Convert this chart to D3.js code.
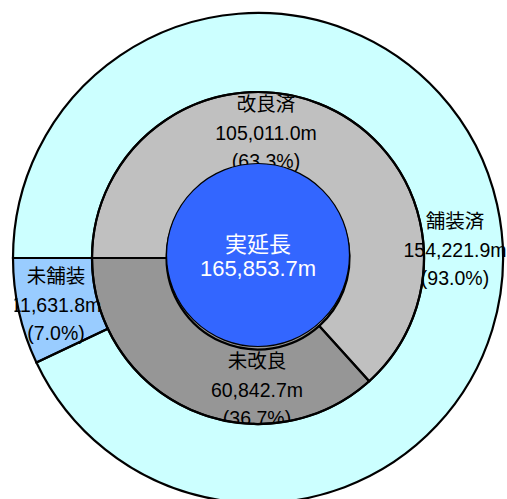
<!DOCTYPE html>
<html><head><meta charset="utf-8">
<script src="https://cdn.jsdelivr.net/npm/d3@7"></script>
<style>html,body{margin:0;padding:0;background:#fff;overflow:hidden}</style>
</head><body>
<svg id="c" width="507" height="499"></svg>
<script>
// Data
const totalLabel = "実延長";
const totalValue = "165,853.7m";
const innerCategories = ["改良済", "未改良"];
const innerValues = [105011.0, 60842.7];
const innerPercents = ["63.3%", "36.7%"];
const outerCategories = ["舗装済", "未舗装"];
const outerValues = [154221.9, 11631.8];
const outerPercents = ["93.0%", "7.0%"];

const innerColors = ["#C0C0C0", "#969696"];
const outerColors = ["#CCFFFF", "#99CCFF"];
const centerColor = "#3366FF";

const cx = 258, cy = 258;
const rOuter = 245, rMid = 166, rBlue = 91.5;
const font = '"Liberation Sans", Arial, "Noto Sans CJK JP", sans-serif';
const fmt = d3.format(",.1f");

const svg = d3.select("#c");
const g = svg.append("g").attr("transform", `translate(${cx},${cy})`);

const pie = d3.pie().sort(null).startAngle(-Math.PI / 2).endAngle(3 * Math.PI / 2);
const innerArcs = pie(innerValues);
const outerArcs = pie(outerValues);

const midArc = d3.arc().innerRadius(rBlue).outerRadius(rMid);
const ringArc = d3.arc().innerRadius(rMid).outerRadius(rOuter);

// label anchor offsets (relative to center): [dx, dy of first line]
const innerLabelPos = [[8, -154], [-1, 103]];
const outerLabelPos = [[197, -37], [-202, 18]];
const lineGap = 28.7;

function drawLabel(layer, pos, name, value, pct, size) {
  const t = layer.append("g").attr("transform", `translate(${pos[0]},${pos[1]})`);
  [name, fmt(value) + "m", "(" + pct + ")"].forEach((s, i) => {
    t.append("text").attr("x", 0).attr("y", i * lineGap)
      .attr("text-anchor", "middle").attr("dominant-baseline", "central")
      .attr("font-family", font).attr("font-size", size).attr("fill", "#000").text(s);
  });
}

// middle ring fills
g.append("g").selectAll("path").data(innerArcs).join("path")
  .attr("d", d3.arc().innerRadius(0).outerRadius(rMid))
  .attr("fill", (d, i) => innerColors[i]);

// middle labels
const midLab = g.append("g");
innerArcs.forEach((d, i) => drawLabel(midLab, innerLabelPos[i], innerCategories[i], innerValues[i], innerPercents[i], 19.5));

// outer ring fills
g.append("g").selectAll("path").data(outerArcs).join("path")
  .attr("d", ringArc).attr("fill", (d, i) => outerColors[i]);

// outer labels (clipped to plot area)
svg.append("defs").append("clipPath").attr("id", "plot")
  .append("rect").attr("x", 14.5 - cx).attr("y", -cy).attr("width", 507).attr("height", 499);
const outLab = g.append("g").attr("clip-path", "url(#plot)");
outerArcs.forEach((d, i) => drawLabel(outLab, outerLabelPos[i], outerCategories[i], outerValues[i], outerPercents[i], 19.5));

// strokes
g.append("g").selectAll("path").data(outerArcs).join("path")
  .attr("d", ringArc).attr("fill", "none").attr("stroke", "#000").attr("stroke-width", 2.2);
g.append("g").selectAll("path").data(innerArcs).join("path")
  .attr("d", midArc).attr("fill", "none").attr("stroke", "#000").attr("stroke-width", 2.2);

// center circle
g.append("circle").attr("cx", 0).attr("cy", -3).attr("r", rBlue)
  .attr("fill", centerColor).attr("stroke", "#000").attr("stroke-width", 1.2);
g.append("text").attr("x", 0).attr("y", -14).attr("text-anchor", "middle").attr("dominant-baseline", "central")
  .attr("font-family", font).attr("font-size", 22).attr("fill", "#fff").text(totalLabel);
g.append("text").attr("x", 0).attr("y", 10.5).attr("text-anchor", "middle").attr("dominant-baseline", "central")
  .attr("font-family", font).attr("font-size", 22).attr("fill", "#fff").text(totalValue);
</script>
</body></html>
